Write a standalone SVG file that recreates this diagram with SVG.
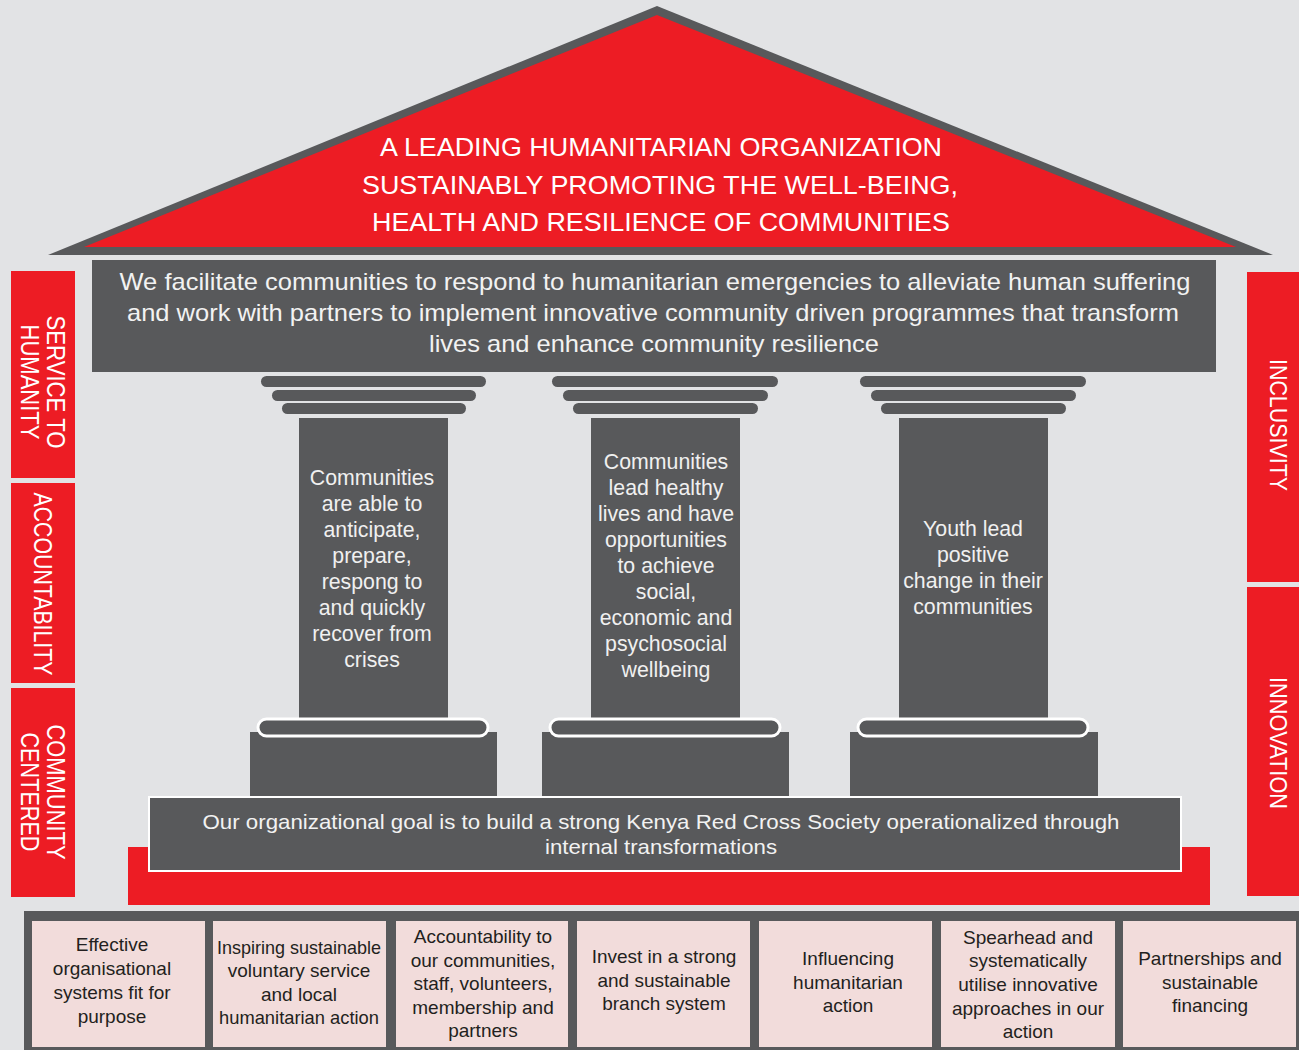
<svg xmlns="http://www.w3.org/2000/svg" width="1299" height="1050" viewBox="0 0 1299 1050">
<style>
.bg{fill:#e2e3e5}
.red{fill:#ed1c24}
.gray{fill:#58595b}
.pink{fill:#f2dcdb}
.t{font-family:"Liberation Sans",Arial,sans-serif}
.roof{font-size:26.5px;fill:#ffffff;text-anchor:middle}
.mission{font-size:24px;fill:#f2f2f2;text-anchor:middle}
.pill{font-size:21.3px;fill:#f0f0f0;text-anchor:middle}
.goal{font-size:21px;fill:#f2f2f2;text-anchor:middle}
.val{font-size:25px;fill:#ffffff;text-anchor:middle}
.box{font-size:19px;fill:#231f20;text-anchor:middle}
.cap{fill:#58595b}
.base{fill:#58595b;stroke:#ffffff;stroke-width:3}
</style>
<rect class="bg" x="0" y="0" width="1299" height="1050"/>

<g id="roof">
<polygon class="gray" points="657,6 1273,255 48,255"/>
<polygon class="red" points="657,15 1236,247 84,247"/>
<text class="t roof" x="661" y="156" textLength="562" lengthAdjust="spacingAndGlyphs">A LEADING HUMANITARIAN ORGANIZATION</text>
<text class="t roof" x="660" y="194" textLength="596" lengthAdjust="spacingAndGlyphs">SUSTAINABLY PROMOTING THE WELL-BEING,</text>
<text class="t roof" x="661" y="231" textLength="578" lengthAdjust="spacingAndGlyphs">HEALTH AND RESILIENCE OF COMMUNITIES</text>
</g>

<g id="mission">
<rect class="gray" x="92" y="260" width="1124" height="112"/>
<text class="t mission" x="655" y="290" textLength="1071" lengthAdjust="spacingAndGlyphs">We facilitate communities to respond to humanitarian emergencies to alleviate human suffering</text>
<text class="t mission" x="653" y="321" textLength="1052" lengthAdjust="spacingAndGlyphs">and work with partners to implement innovative community driven programmes that transform</text>
<text class="t mission" x="654" y="352" textLength="450" lengthAdjust="spacingAndGlyphs">lives and enhance community resilience</text>
</g>

<g id="value-service">
<rect class="red" x="11" y="271" width="64" height="207"/>
<g transform="translate(43,382) rotate(90)">
<text class="t val" x="0" y="-4" textLength="133" lengthAdjust="spacingAndGlyphs">SERVICE TO</text>
<text class="t val" x="0" y="22" textLength="115" lengthAdjust="spacingAndGlyphs">HUMANITY</text>
</g>
</g>
<g id="value-accountability">
<rect class="red" x="11" y="483" width="64" height="200"/>
<g transform="translate(43,584) rotate(90)">
<text class="t val" x="0" y="9" textLength="183" lengthAdjust="spacingAndGlyphs">ACCOUNTABILITY</text>
</g>
</g>
<g id="value-community">
<rect class="red" x="11" y="688" width="64" height="209"/>
<g transform="translate(43,792) rotate(90)">
<text class="t val" x="0" y="-4" textLength="135" lengthAdjust="spacingAndGlyphs">COMMUNITY</text>
<text class="t val" x="0" y="22" textLength="119" lengthAdjust="spacingAndGlyphs">CENTERED</text>
</g>
</g>
<g id="value-inclusivity">
<rect class="red" x="1247" y="272" width="52" height="310"/>
<g transform="translate(1278,425) rotate(90)">
<text class="t val" x="0" y="8.5" style="font-size:24px" textLength="132" lengthAdjust="spacingAndGlyphs">INCLUSIVITY</text>
</g>
</g>
<g id="value-innovation">
<rect class="red" x="1247" y="587" width="52" height="309"/>
<g transform="translate(1278,743) rotate(90)">
<text class="t val" x="0" y="8.5" style="font-size:24px" textLength="132" lengthAdjust="spacingAndGlyphs">INNOVATION</text>
</g>
</g>

<g id="pillar-1">
<rect class="cap" x="261" y="376" width="225" height="11" rx="5.5"/>
<rect class="cap" x="272" y="390" width="204" height="11" rx="5.5"/>
<rect class="cap" x="282" y="403" width="184" height="11" rx="5.5"/>
<rect class="gray" x="299" y="418" width="149" height="301"/>
<rect class="gray" x="250" y="732" width="247" height="64"/>
<rect class="base" x="258" y="719" width="230" height="17" rx="8.5"/>
<text class="t pill" x="372" y="485">Communities</text>
<text class="t pill" x="372" y="511">are able to</text>
<text class="t pill" x="372" y="537">anticipate,</text>
<text class="t pill" x="372" y="563">prepare,</text>
<text class="t pill" x="372" y="589">respong to</text>
<text class="t pill" x="372" y="615">and quickly</text>
<text class="t pill" x="372" y="641">recover from</text>
<text class="t pill" x="372" y="667">crises</text>
</g>

<g id="pillar-2">
<rect class="cap" x="552" y="376" width="226" height="11" rx="5.5"/>
<rect class="cap" x="563" y="390" width="205" height="11" rx="5.5"/>
<rect class="cap" x="573" y="403" width="185" height="11" rx="5.5"/>
<rect class="gray" x="591" y="418" width="149" height="301"/>
<rect class="gray" x="542" y="732" width="247" height="64"/>
<rect class="base" x="550" y="719" width="230" height="17" rx="8.5"/>
<text class="t pill" x="666" y="469">Communities</text>
<text class="t pill" x="666" y="495">lead healthy</text>
<text class="t pill" x="666" y="521">lives and have</text>
<text class="t pill" x="666" y="547">opportunities</text>
<text class="t pill" x="666" y="573">to achieve</text>
<text class="t pill" x="666" y="599">social,</text>
<text class="t pill" x="666" y="625">economic and</text>
<text class="t pill" x="666" y="651">psychosocial</text>
<text class="t pill" x="666" y="677">wellbeing</text>
</g>

<g id="pillar-3">
<rect class="cap" x="860" y="376" width="226" height="11" rx="5.5"/>
<rect class="cap" x="871" y="390" width="205" height="11" rx="5.5"/>
<rect class="cap" x="881" y="403" width="185" height="11" rx="5.5"/>
<rect class="gray" x="899" y="418" width="149" height="301"/>
<rect class="gray" x="850" y="732" width="248" height="64"/>
<rect class="base" x="858" y="719" width="230" height="17" rx="8.5"/>
<text class="t pill" x="973" y="536">Youth lead</text>
<text class="t pill" x="973" y="562">positive</text>
<text class="t pill" x="973" y="588">change in their</text>
<text class="t pill" x="973" y="614">communities</text>
</g>

<g id="goal">
<rect class="red" x="128" y="847" width="1082" height="58"/>
<rect class="gray" x="149" y="797" width="1032" height="74" stroke="#ffffff" stroke-width="2"/>
<text class="t goal" x="661" y="829" textLength="917" lengthAdjust="spacingAndGlyphs">Our organizational goal is to build a strong Kenya Red Cross Society operationalized through</text>
<text class="t goal" x="661" y="854" textLength="232" lengthAdjust="spacingAndGlyphs">internal transformations</text>
</g>

<g id="priorities">
<rect class="gray" x="24" y="911" width="1275" height="139"/>
</g>
<g id="priority-1">
<rect class="pink" x="32" y="921" width="173" height="126"/>
<text class="t box" x="112" y="951">Effective</text>
<text class="t box" x="112" y="975">organisational</text>
<text class="t box" x="112" y="999">systems fit for</text>
<text class="t box" x="112" y="1023">purpose</text>
</g>
<g id="priority-2">
<rect class="pink" x="213" y="921" width="173" height="126"/>
<text class="t box" x="299" y="954" textLength="164" lengthAdjust="spacingAndGlyphs">Inspiring sustainable</text>
<text class="t box" x="299" y="977">voluntary service</text>
<text class="t box" x="299" y="1001">and local</text>
<text class="t box" x="299" y="1024" textLength="160" lengthAdjust="spacingAndGlyphs">humanitarian action</text>
</g>
<g id="priority-3">
<rect class="pink" x="396" y="921" width="172" height="126"/>
<text class="t box" x="483" y="943">Accountability to</text>
<text class="t box" x="483" y="967">our communities,</text>
<text class="t box" x="483" y="990">staff, volunteers,</text>
<text class="t box" x="483" y="1014">membership and</text>
<text class="t box" x="483" y="1037">partners</text>
</g>
<g id="priority-4">
<rect class="pink" x="577" y="921" width="173" height="126"/>
<text class="t box" x="664" y="963">Invest in a strong</text>
<text class="t box" x="664" y="987">and sustainable</text>
<text class="t box" x="664" y="1010">branch system</text>
</g>
<g id="priority-5">
<rect class="pink" x="759" y="921" width="173" height="126"/>
<text class="t box" x="848" y="965">Influencing</text>
<text class="t box" x="848" y="989">humanitarian</text>
<text class="t box" x="848" y="1012">action</text>
</g>
<g id="priority-6">
<rect class="pink" x="941" y="921" width="174" height="126"/>
<text class="t box" x="1028" y="944">Spearhead and</text>
<text class="t box" x="1028" y="967">systematically</text>
<text class="t box" x="1028" y="991">utilise innovative</text>
<text class="t box" x="1028" y="1015">approaches in our</text>
<text class="t box" x="1028" y="1038">action</text>
</g>
<g id="priority-7">
<rect class="pink" x="1123" y="921" width="173" height="126"/>
<text class="t box" x="1210" y="965">Partnerships and</text>
<text class="t box" x="1210" y="989">sustainable</text>
<text class="t box" x="1210" y="1012">financing</text>
</g>
<g id="connectors"/>
</svg>
